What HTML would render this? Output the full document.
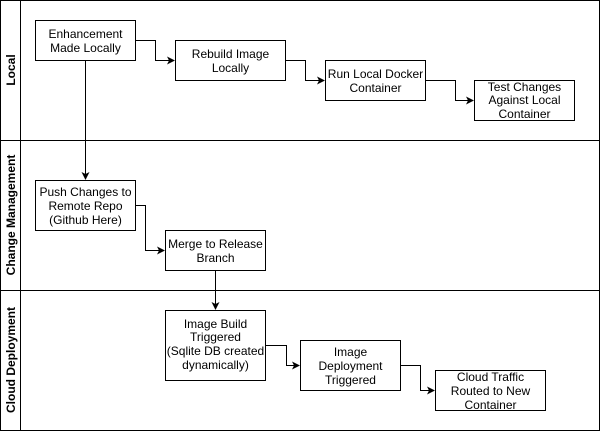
<!DOCTYPE html>
<html><head><style>body{margin:0;background:#fff}svg{display:block}text{font-family:"Liberation Sans",Arial,sans-serif;font-size:12px;fill:#000}</style></head><body>
<svg width="601" height="432" viewBox="0 0 601 432" xmlns="http://www.w3.org/2000/svg">
<defs><marker id="a" markerWidth="8" markerHeight="8" refX="7" refY="4" orient="auto" markerUnits="userSpaceOnUse"><path d="M0,0 L8,4 L0,8 L2,4 Z" fill="#000"/></marker></defs>
<g fill="none" stroke="#000" stroke-width="1">
<rect x="0.5" y="0.5" width="599" height="430"/>
<line x1="20.5" y1="0" x2="20.5" y2="431"/>
<line x1="0" y1="140.5" x2="600" y2="140.5"/>
<line x1="0" y1="290.5" x2="600" y2="290.5"/>
<rect x="35.5" y="20.5" width="100" height="40"/>
<rect x="175.5" y="40.5" width="110" height="40"/>
<rect x="325.5" y="60.5" width="100" height="40"/>
<rect x="474.5" y="80.5" width="100" height="40"/>
<rect x="35.5" y="180.5" width="100" height="50"/>
<rect x="165.5" y="230.5" width="100" height="40"/>
<rect x="165.5" y="310.5" width="100" height="70"/>
<rect x="300.5" y="340.5" width="100" height="50"/>
<rect x="435.5" y="370.5" width="110" height="40"/>
<path d="M135.5 40.5 H155.5 V60.5 H174" marker-end="url(#a)"/>
<path d="M285.5 60.5 H305.5 V80.5 H324" marker-end="url(#a)"/>
<path d="M425.5 80.5 H455.5 V100.5 H473" marker-end="url(#a)"/>
<path d="M85.5 60.5 V179" marker-end="url(#a)"/>
<path d="M135.5 205.5 H145.5 V250.5 H164" marker-end="url(#a)"/>
<path d="M215.5 270.5 V309" marker-end="url(#a)"/>
<path d="M265.5 345.5 H286.5 V365.5 H299" marker-end="url(#a)"/>
<path d="M400.5 365.5 H420.5 V390.5 H434" marker-end="url(#a)"/>
</g>
<g text-anchor="middle">
<text x="85.5" y="38">Enhancement</text><text x="85.5" y="52">Made Locally</text>
<text x="230.5" y="58">Rebuild Image</text><text x="230.5" y="72">Locally</text>
<text x="375.5" y="78">Run Local Docker</text><text x="375.5" y="92">Container</text>
<text x="524.5" y="91">Test Changes</text><text x="524.5" y="104">Against Local</text><text x="524.5" y="118">Container</text>
<text x="85.5" y="196">Push Changes to</text><text x="85.5" y="210">Remote Repo</text><text x="85.5" y="224">(Github Here)</text>
<text x="215.5" y="248">Merge to Release</text><text x="215.5" y="262">Branch</text>
<text x="215.5" y="328">Image Build</text><text x="215.5" y="341">Triggered</text><text x="215.5" y="355">(Sqlite DB created</text><text x="215.5" y="369">dynamically)</text>
<text x="350.5" y="356">Image</text><text x="350.5" y="370">Deployment</text><text x="350.5" y="384">Triggered</text>
<text x="490.5" y="381">Cloud Traffic</text><text x="490.5" y="395">Routed to New</text><text x="490.5" y="409">Container</text>
<text transform="translate(15,70) rotate(-90)" style="font-weight:bold">Local</text>
<text transform="translate(15,215) rotate(-90)" style="font-weight:bold">Change Management</text>
<text transform="translate(15,360) rotate(-90)" style="font-weight:bold">Cloud Deployment</text>
</g>
</svg>
</body></html>
